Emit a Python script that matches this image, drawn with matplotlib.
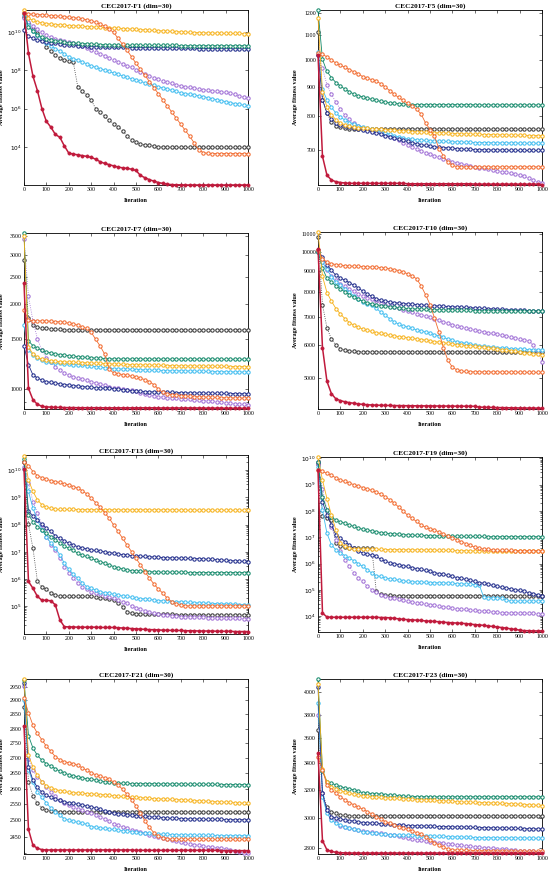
import numpy as np
import matplotlib
matplotlib.use("Agg")
import matplotlib.pyplot as plt
from matplotlib.ticker import NullFormatter

plt.rcParams['font.family'] = ['Liberation Serif', 'DejaVu Serif']

# values sampled every 20 iterations (0..1000); log plots F1/F13/F19 stored as log10
F1_LOG10 = {
    'black': [10.82, 10.47, 10.2, 9.95, 9.6, 9.25, 9.0, 8.8, 8.65, 8.56,
              8.5, 8.44, 7.15, 6.94, 6.7, 6.45, 6.0, 5.8, 5.6, 5.4,
              5.22, 5.05, 4.85, 4.55, 4.38, 4.25, 4.15, 4.1, 4.07, 4.04,
              4.0, 3.99, 3.98, 3.98, 3.97, 3.97, 3.97, 3.97, 3.97, 3.97,
              3.97, 3.97, 3.97, 3.97, 3.97, 3.97, 3.97, 3.97, 3.97, 3.97,
              3.97],
    'purple': [10.73, 10.56, 10.35, 10.15, 10.0, 9.85, 9.75, 9.67, 9.6, 9.55,
               9.48, 9.42, 9.36, 9.28, 9.18, 9.08, 8.98, 8.88, 8.78, 8.67,
               8.56, 8.46, 8.36, 8.26, 8.16, 8.05, 7.94, 7.83, 7.72, 7.62,
               7.53, 7.46, 7.39, 7.32, 7.26, 7.2, 7.15, 7.11, 7.07, 7.04,
               7.0, 6.97, 6.94, 6.91, 6.88, 6.85, 6.8, 6.75, 6.68, 6.6,
               6.54],
    'lightblue': [10.9, 10.38, 10.05, 9.85, 9.65, 9.45, 9.3, 9.15, 9.02, 8.88,
                  8.7, 8.62, 8.55, 8.45, 8.35, 8.24, 8.17, 8.1, 8.02, 7.95,
                  7.87, 7.8, 7.72, 7.65, 7.57, 7.5, 7.43, 7.36, 7.29, 7.22,
                  7.15, 7.08, 7.02, 6.96, 6.9, 6.84, 6.79, 6.75, 6.71, 6.67,
                  6.63, 6.58, 6.52, 6.47, 6.42, 6.37, 6.32, 6.27, 6.22, 6.18,
                  6.14],
    'navy': [10.12, 9.8, 9.68, 9.6, 9.55, 9.5, 9.46, 9.42, 9.39, 9.36,
             9.33, 9.31, 9.29, 9.27, 9.26, 9.25, 9.24, 9.24, 9.23, 9.23,
             9.22, 9.22, 9.21, 9.21, 9.2, 9.2, 9.2, 9.19, 9.19, 9.19,
             9.18, 9.18, 9.18, 9.17, 9.17, 9.17, 9.16, 9.16, 9.16, 9.15,
             9.15, 9.15, 9.15, 9.14, 9.14, 9.14, 9.14, 9.13, 9.13, 9.13,
             9.13],
    'green': [11.0, 10.3, 10.05, 9.88, 9.75, 9.67, 9.6, 9.56, 9.52, 9.49,
              9.46, 9.44, 9.42, 9.41, 9.4, 9.38, 9.37, 9.36, 9.35, 9.34,
              9.33, 9.33, 9.32, 9.32, 9.32, 9.32, 9.32, 9.31, 9.31, 9.31,
              9.31, 9.31, 9.31, 9.31, 9.31, 9.3, 9.3, 9.3, 9.3, 9.3,
              9.3, 9.3, 9.3, 9.3, 9.3, 9.3, 9.3, 9.3, 9.3, 9.3,
              9.3],
    'yellow': [11.17, 10.75, 10.62, 10.55, 10.5, 10.46, 10.43, 10.41, 10.39, 10.37,
               10.35, 10.34, 10.33, 10.31, 10.3, 10.29, 10.27, 10.26, 10.25, 10.23,
               10.22, 10.21, 10.19, 10.18, 10.17, 10.15, 10.14, 10.13, 10.11, 10.1,
               10.09, 10.07, 10.06, 10.05, 10.04, 10.02, 10.01, 10.0, 9.99, 9.98,
               9.97, 9.97, 9.96, 9.96, 9.95, 9.95, 9.94, 9.94, 9.94, 9.93,
               9.93],
    'orange': [11.0, 10.97, 10.95, 10.93, 10.92, 10.9, 10.88, 10.86, 10.84, 10.82,
               10.79, 10.77, 10.74, 10.7, 10.66, 10.6, 10.52, 10.43, 10.33, 10.16,
               10.0, 9.68, 9.37, 9.06, 8.72, 8.38, 8.06, 7.74, 7.42, 7.1,
               6.78, 6.46, 6.14, 5.82, 5.5, 5.18, 4.86, 4.55, 4.2, 3.85,
               3.7, 3.66, 3.65, 3.65, 3.65, 3.65, 3.65, 3.65, 3.65, 3.65,
               3.65],
    'red': [11.0, 8.9, 7.7, 6.94, 6.0, 5.33, 5.03, 4.65, 4.5, 4.05,
            3.67, 3.62, 3.58, 3.54, 3.5, 3.45, 3.35, 3.22, 3.13, 3.07,
            3.0, 2.94, 2.9, 2.87, 2.83, 2.76, 2.5, 2.38, 2.28, 2.2,
            2.13, 2.08, 2.04, 2.02, 2.01, 2.01, 2.0, 2.0, 2.0, 2.0,
            2.0, 2.0, 2.0, 2.0, 2.0, 2.0, 2.0, 2.0, 2.0, 2.0,
            2.0],
}

F5 = {
    'black': [1115, 855, 812, 782, 772, 767, 764, 762, 762, 762,
              762, 762, 762, 762, 762, 762, 762, 762, 762, 762,
              762, 762, 762, 762, 762, 762, 762, 762, 762, 762,
              761, 761, 761, 761, 761, 761, 761, 761, 761, 761,
              761, 761, 761, 761, 761, 761, 761, 761, 761, 761,
              761],
    'purple': [1020, 967, 906, 873, 846, 823, 805, 792, 779, 771,
               764, 760, 757, 753, 749, 745, 740, 734, 728, 722,
               716, 710, 704, 698, 694, 690, 686, 682, 678, 674,
               670, 667, 664, 661, 658, 656, 654, 652, 650, 648,
               646, 644, 642, 640, 638, 635, 632, 628, 623, 619,
               615],
    'lightblue': [1030, 890, 854, 829, 811, 798, 789, 781, 776, 772,
                  768, 764, 761, 758, 754, 750, 746, 742, 738, 735,
                  732, 731, 730, 729, 728, 727, 726, 726, 725, 725,
                  724, 724, 723, 723, 723, 722, 722, 722, 722, 721,
                  721, 721, 721, 721, 721, 720, 720, 720, 720, 720,
                  720],
    'navy': [1020, 855, 810, 792, 781, 775, 771, 768, 765, 762,
             760, 757, 754, 750, 746, 742, 738, 734, 731, 728,
             725, 722, 719, 716, 714, 712, 710, 709, 708, 707,
             706, 705, 704, 703, 703, 702, 702, 702, 701, 701,
             701, 701, 701, 700, 700, 700, 700, 700, 700, 700,
             700],
    'green': [1215, 1001, 955, 932, 914, 902, 891, 882, 874, 868,
              864, 859, 856, 852, 849, 846, 844, 842, 841, 840,
              838, 838, 838, 838, 838, 838, 838, 838, 838, 838,
              838, 838, 838, 838, 838, 837, 837, 837, 837, 837,
              837, 837, 837, 837, 837, 837, 837, 837, 837, 837,
              837],
    'yellow': [1180, 880, 830, 805, 790, 780, 774, 770, 768, 766,
               765, 764, 763, 762, 761, 760, 759, 758, 757, 756,
               755, 754, 753, 752, 752, 751, 750, 750, 749, 749,
               748, 748, 747, 747, 746, 746, 746, 745, 745, 745,
               744, 744, 744, 743, 743, 743, 743, 742, 742, 742,
               742],
    'orange': [1026, 1022, 1011, 999, 987, 979, 971, 962, 954, 947,
               935, 929, 925, 920, 910, 898, 886, 873, 862, 852,
               843, 834, 823, 808, 780, 760, 740, 705, 685, 668,
               660, 657, 656, 656, 656, 656, 656, 656, 656, 656,
               656, 656, 656, 656, 656, 656, 656, 656, 656, 656,
               656],
    'red': [1020, 684, 635, 623, 619, 617, 616, 615, 615, 615,
            615, 615, 615, 615, 615, 615, 615, 615, 615, 615,
            614, 614, 614, 614, 614, 614, 614, 614, 614, 614,
            614, 614, 614, 614, 614, 613, 613, 613, 613, 613,
            613, 613, 613, 613, 613, 613, 613, 613, 613, 613,
            612],
}

F7 = {
    'black': [2870, 1780, 1690, 1660, 1648, 1640, 1635, 1630, 1627, 1625,
              1623, 1622, 1621, 1621, 1620, 1620, 1620, 1620, 1620, 1620,
              1620, 1620, 1620, 1620, 1620, 1620, 1620, 1620, 1620, 1620,
              1620, 1620, 1620, 1620, 1620, 1620, 1620, 1620, 1620, 1620,
              1620, 1620, 1620, 1620, 1620, 1620, 1620, 1620, 1620, 1620,
              1620],
    'purple': [3400, 2130, 1745, 1506, 1370, 1290, 1245, 1200, 1165, 1140,
               1120, 1105, 1095, 1085, 1075, 1062, 1050, 1040, 1030, 1020,
               1010, 1005, 1000, 994, 988, 980, 970, 960, 953, 947,
               940, 935, 932, 930, 928, 925, 922, 919, 916, 913,
               910, 906, 903, 900, 897, 894, 891, 888, 885, 881,
               877],
    'lightblue': [1680, 1380, 1320, 1290, 1265, 1250, 1243, 1237, 1232, 1228,
                  1225, 1221, 1217, 1213, 1209, 1205, 1200, 1195, 1190, 1185,
                  1180, 1178, 1177, 1176, 1174, 1172, 1170, 1168, 1166, 1164,
                  1163, 1162, 1161, 1160, 1160, 1160, 1159, 1158, 1157, 1156,
                  1155, 1154, 1153, 1152, 1152, 1151, 1150, 1150, 1149, 1148,
                  1148],
    'navy': [1420, 1220, 1120, 1095, 1075, 1062, 1055, 1048, 1042, 1037,
             1033, 1028, 1024, 1020, 1016, 1013, 1010, 1008, 1006, 1004,
             1002, 998, 994, 990, 986, 982, 980, 978, 977, 976,
             975, 974, 973, 972, 971, 970, 969, 968, 967, 967,
             966, 966, 965, 965, 964, 964, 963, 963, 962, 962,
             962],
    'green': [3575, 1480, 1425, 1395, 1370, 1355, 1343, 1333, 1325, 1318,
              1312, 1307, 1302, 1298, 1294, 1290, 1287, 1284, 1282, 1280,
              1278, 1277, 1277, 1277, 1277, 1277, 1277, 1276, 1276, 1276,
              1276, 1276, 1276, 1276, 1276, 1276, 1276, 1276, 1276, 1276,
              1275, 1275, 1275, 1275, 1275, 1275, 1275, 1275, 1275, 1275,
              1275],
    'yellow': [3500, 1410, 1330, 1295, 1275, 1265, 1258, 1254, 1250, 1248,
               1246, 1244, 1242, 1240, 1238, 1236, 1234, 1232, 1230, 1228,
               1226, 1224, 1222, 1220, 1219, 1218, 1217, 1216, 1215, 1214,
               1213, 1212, 1211, 1210, 1209, 1208, 1207, 1206, 1205, 1205,
               1204, 1204, 1203, 1203, 1202, 1202, 1201, 1201, 1200, 1200,
               1200],
    'orange': [1900, 1760, 1745, 1745, 1744, 1742, 1740, 1735, 1730, 1722,
               1712, 1700, 1685, 1660, 1640, 1590, 1500, 1420, 1330, 1175,
               1140, 1133, 1125, 1118, 1110, 1100, 1090, 1080, 1062, 1035,
               1000, 972, 960, 955, 950, 946, 944, 942, 940, 938,
               936, 935, 934, 933, 932, 931, 930, 929, 929, 928,
               928],
    'red': [2370, 1005, 915, 882, 868, 864, 862, 860, 860, 859,
            859, 859, 858, 858, 858, 858, 858, 858, 857, 857,
            857, 857, 857, 857, 857, 857, 857, 857, 857, 857,
            856, 856, 856, 856, 856, 856, 856, 856, 856, 856,
            855, 855, 855, 855, 855, 854, 854, 854, 854, 854,
            853],
}

F10 = {
    'black': [10850, 7480, 6580, 6180, 5980, 5873, 5820, 5790, 5780, 5775,
              5770, 5770, 5770, 5770, 5770, 5770, 5770, 5770, 5770, 5770,
              5770, 5770, 5769, 5769, 5768, 5768, 5767, 5767, 5766, 5766,
              5765, 5765, 5764, 5764, 5763, 5763, 5762, 5762, 5762, 5761,
              5761, 5761, 5761, 5760, 5760, 5760, 5760, 5760, 5760, 5760,
              5760],
    'purple': [10000, 9450, 9030, 8740, 8540, 8390, 8290, 8165, 8050, 7930,
               7840, 7760, 7700, 7620, 7540, 7470, 7420, 7370, 7320, 7270,
               7220, 7170, 7120, 7070, 7020, 6980, 6920, 6860, 6800, 6750,
               6700, 6660, 6620, 6580, 6540, 6500, 6470, 6440, 6410, 6380,
               6350, 6320, 6290, 6260, 6230, 6200, 6170, 6130, 6000, 5800,
               5460],
    'lightblue': [10000, 9450, 9080, 8720, 8470, 8320, 8150, 8000, 7850, 7730,
                  7600, 7520, 7450, 7320, 7180, 7050, 6920, 6800, 6720, 6650,
                  6610, 6560, 6510, 6470, 6430, 6390, 6340, 6290, 6240, 6190,
                  6140, 6100, 6070, 6040, 6010, 5980, 5960, 5945, 5930, 5915,
                  5900, 5890, 5880, 5870, 5860, 5850, 5845, 5838, 5832, 5826,
                  5820],
    'navy': [10100, 9700, 9320, 9030, 8785, 8660, 8550, 8440, 8320, 8200,
             8050, 7930, 7830, 7730, 7660, 7620, 7590, 7560, 7540, 7520,
             7505, 7490, 7475, 7460, 7450, 7440, 7430, 7420, 7410, 7400,
             7390, 7380, 7370, 7360, 7350, 7340, 7330, 7320, 7310, 7300,
             7290, 7280, 7270, 7262, 7255, 7248, 7240, 7234, 7228, 7224,
             7220],
    'green': [10000, 9140, 8640, 8470, 8290, 8150, 8020, 7900, 7800, 7700,
              7620, 7560, 7510, 7470, 7440, 7410, 7385, 7365, 7345, 7330,
              7315, 7305, 7295, 7288, 7282, 7276, 7270, 7265, 7260, 7256,
              7252, 7248, 7245, 7242, 7239, 7236, 7233, 7230, 7228, 7226,
              7224, 7222, 7220, 7218, 7217, 7216, 7215, 7214, 7212, 7211,
              7210],
    'yellow': [11150, 8740, 7990, 7620, 7316, 7100, 6925, 6775, 6676, 6605,
               6530, 6490, 6450, 6410, 6380, 6345, 6320, 6295, 6270, 6250,
               6230, 6210, 6190, 6170, 6150, 6130, 6100, 6080, 6060, 6040,
               6020, 6000, 5985, 5970, 5955, 5940, 5925, 5910, 5895, 5880,
               5865, 5840, 5820, 5800, 5780, 5760, 5740, 5720, 5705, 5690,
               5680],
    'orange': [10100, 9625, 9450, 9370, 9320, 9280, 9260, 9245, 9235, 9225,
               9215, 9205, 9195, 9180, 9160, 9135, 9105, 9070, 9020, 8950,
               8860, 8760, 8620, 8300, 7900, 7480, 6950, 6430, 5900, 5500,
               5300, 5220, 5185, 5175, 5168, 5165, 5163, 5162, 5161, 5160,
               5159, 5158, 5157, 5156, 5155, 5154, 5153, 5152, 5151, 5150,
               5150],
    'red': [10170, 5900, 4900, 4580, 4450, 4410, 4380, 4360, 4345, 4330,
            4318, 4310, 4305, 4300, 4297, 4294, 4292, 4290, 4289, 4288,
            4287, 4286, 4285, 4284, 4283, 4282, 4281, 4280, 4279, 4278,
            4277, 4276, 4275, 4275, 4274, 4273, 4255, 4250, 4248, 4246,
            4244, 4242, 4240, 4238, 4236, 4234, 4233, 4232, 4231, 4230,
            4228],
}

F13_LOG10 = {
    'black': [10.32, 8.01, 7.13, 5.91, 5.72, 5.62, 5.48, 5.42, 5.38, 5.36,
              5.36, 5.36, 5.36, 5.36, 5.36, 5.36, 5.34, 5.32, 5.31, 5.28,
              5.23, 5.11, 4.99, 4.8, 4.74, 4.72, 4.71, 4.71, 4.7, 4.7,
              4.7, 4.7, 4.7, 4.7, 4.69, 4.69, 4.69, 4.69, 4.69, 4.69,
              4.69, 4.69, 4.69, 4.68, 4.68, 4.68, 4.68, 4.68, 4.68, 4.68,
              4.68],
    'purple': [10.13, 9.52, 8.85, 8.44, 7.99, 7.56, 7.25, 7.07, 6.76, 6.46,
               6.24, 6.03, 5.85, 5.72, 5.62, 5.54, 5.49, 5.44, 5.39, 5.34,
               5.29, 5.23, 5.17, 5.11, 5.02, 4.95, 4.89, 4.84, 4.8, 4.75,
               4.72, 4.69, 4.67, 4.66, 4.64, 4.62, 4.61, 4.6, 4.6, 4.59,
               4.59, 4.58, 4.58, 4.57, 4.57, 4.56, 4.56, 4.55, 4.55, 4.54,
               4.54],
    'lightblue': [10.04, 9.22, 8.6, 8.17, 7.81, 7.56, 7.32, 7.13, 6.89, 6.58,
                  6.36, 6.18, 6.03, 5.87, 5.72, 5.66, 5.6, 5.54, 5.5, 5.48,
                  5.44, 5.4, 5.38, 5.36, 5.33, 5.29, 5.28, 5.27, 5.25, 5.23,
                  5.21, 5.2, 5.18, 5.17, 5.17, 5.16, 5.15, 5.14, 5.13, 5.12,
                  5.11, 5.11, 5.1, 5.1, 5.09, 5.08, 5.08, 5.07, 5.06, 5.06,
                  5.05],
    'navy': [10.32, 8.5, 8.32, 8.17, 8.01, 7.87, 7.75, 7.59, 7.5, 7.41,
             7.32, 7.25, 7.19, 7.14, 7.11, 7.07, 7.05, 7.02, 7.0, 6.97,
             6.95, 6.92, 6.9, 6.89, 6.86, 6.85, 6.84, 6.83, 6.82, 6.81,
             6.8, 6.79, 6.78, 6.78, 6.77, 6.77, 6.76, 6.76, 6.75, 6.75,
             6.74, 6.73, 6.72, 6.71, 6.7, 6.69, 6.68, 6.67, 6.66, 6.65,
             6.64],
    'green': [10.4, 8.36, 8.11, 7.93, 7.81, 7.68, 7.56, 7.44, 7.32, 7.22,
              7.13, 7.05, 6.95, 6.88, 6.83, 6.76, 6.7, 6.64, 6.58, 6.52,
              6.46, 6.41, 6.37, 6.34, 6.31, 6.3, 6.29, 6.28, 6.27, 6.26,
              6.25, 6.25, 6.25, 6.25, 6.25, 6.25, 6.25, 6.24, 6.24, 6.24,
              6.24, 6.24, 6.24, 6.24, 6.24, 6.24, 6.24, 6.24, 6.24, 6.24,
              6.24],
    'yellow': [10.53, 9.64, 9.22, 8.91, 8.73, 8.64, 8.6, 8.57, 8.56, 8.56,
               8.56, 8.56, 8.55, 8.55, 8.55, 8.55, 8.55, 8.55, 8.55, 8.55,
               8.54, 8.54, 8.54, 8.54, 8.54, 8.54, 8.54, 8.54, 8.54, 8.54,
               8.54, 8.54, 8.54, 8.54, 8.54, 8.53, 8.53, 8.53, 8.53, 8.53,
               8.53, 8.53, 8.53, 8.53, 8.53, 8.53, 8.53, 8.53, 8.53, 8.53,
               8.53],
    'orange': [10.32, 10.17, 9.95, 9.8, 9.73, 9.67, 9.62, 9.58, 9.55, 9.5,
               9.46, 9.4, 9.34, 9.25, 9.13, 8.97, 8.81, 8.64, 8.44, 8.24,
               7.99, 7.75, 7.5, 7.25, 7.01, 6.76, 6.52, 6.27, 6.03, 5.82,
               5.63, 5.48, 5.29, 5.17, 5.09, 5.04, 5.02, 5.01, 5.01, 5.01,
               5.01, 5.01, 5.01, 5.01, 5.01, 5.01, 5.01, 5.01, 5.01, 5.01,
               5.01],
    'red': [10.04, 5.91, 5.66, 5.36, 5.22, 5.22, 5.2, 5.05, 4.5, 4.25,
            4.24, 4.24, 4.23, 4.23, 4.23, 4.23, 4.23, 4.22, 4.22, 4.22,
            4.22, 4.21, 4.2, 4.19, 4.18, 4.17, 4.16, 4.15, 4.14, 4.14,
            4.13, 4.12, 4.12, 4.11, 4.11, 4.11, 4.1, 4.1, 4.1, 4.09,
            4.09, 4.09, 4.09, 4.08, 4.08, 4.08, 4.08, 4.07, 4.07, 4.07,
            4.07],
}

F19_LOG10 = {
    'black': [9.8, 7.81, 7.72, 7.65, 6.77, 6.67, 6.62, 6.6, 6.59, 6.58,
              6.58, 6.58, 6.58, 4.95, 4.85, 4.81, 4.79, 4.78, 4.78, 4.78,
              4.78, 4.78, 4.78, 4.78, 4.78, 4.78, 4.78, 4.78, 4.78, 4.78,
              4.78, 4.78, 4.78, 4.78, 4.78, 4.78, 4.78, 4.78, 4.78, 4.78,
              4.78, 4.78, 4.78, 4.78, 4.78, 4.78, 4.78, 4.78, 4.78, 4.78,
              4.78],
    'purple': [9.8, 8.85, 8.03, 7.4, 6.9, 6.46, 6.14, 5.89, 5.64, 5.45,
               5.32, 5.13, 5.01, 4.91, 4.82, 4.75, 4.71, 4.68, 4.64, 4.6,
               4.56, 4.54, 4.51, 4.49, 4.46, 4.44, 4.42, 4.39, 4.36, 4.34,
               4.31, 4.29, 4.27, 4.26, 4.24, 4.22, 4.21, 4.19, 4.18, 4.16,
               4.15, 4.14, 4.14, 4.13, 4.13, 4.12, 4.12, 4.11, 4.11, 4.1,
               4.1],
    'lightblue': [9.67, 8.03, 7.15, 6.71, 6.52, 6.42, 6.3, 6.2, 6.11, 6.0,
                  5.89, 5.77, 5.64, 5.54, 5.51, 5.45, 5.42, 5.4, 5.37, 5.34,
                  5.32, 5.31, 5.3, 5.29, 5.29, 5.28, 5.27, 5.27, 5.26, 5.26,
                  5.25, 5.24, 5.23, 5.22, 5.21, 5.2, 5.18, 4.72, 4.7, 4.69,
                  4.69, 4.68, 4.6, 4.58, 4.57, 4.57, 4.57, 4.57, 4.57, 4.57,
                  4.57],
    'navy': [9.86, 8.35, 7.84, 7.47, 7.09, 6.96, 6.83, 6.71, 6.58, 6.49,
             6.39, 6.36, 6.32, 6.27, 6.17, 6.08, 6.04, 6.0, 5.96, 5.92,
             5.89, 5.85, 5.81, 5.78, 5.74, 5.7, 5.66, 5.62, 5.59, 5.55,
             5.51, 5.47, 5.44, 5.4, 5.36, 5.32, 5.28, 5.25, 5.21, 5.17,
             5.13, 5.1, 5.07, 5.04, 5.01, 4.98, 4.94, 4.9, 4.86, 4.82,
             4.78],
    'green': [9.86, 8.54, 8.03, 7.78, 7.65, 7.59, 7.53, 7.47, 7.41, 7.35,
              7.3, 7.27, 7.24, 7.21, 7.18, 7.15, 7.14, 7.13, 7.12, 7.1,
              7.09, 7.08, 7.07, 7.07, 7.06, 7.05, 7.05, 7.05, 7.04, 7.04,
              7.04, 7.04, 7.03, 7.03, 7.03, 7.03, 7.03, 7.03, 7.02, 7.02,
              7.02, 7.02, 7.02, 7.02, 7.02, 7.02, 7.02, 7.02, 7.02, 7.02,
              7.02],
    'yellow': [10.05, 9.17, 8.47, 7.84, 7.28, 6.8, 6.65, 6.58, 6.57, 6.56,
               6.55, 6.55, 6.54, 6.54, 6.54, 6.53, 6.53, 6.53, 6.53, 6.52,
               6.52, 6.52, 6.52, 6.52, 6.51, 6.51, 6.51, 6.5, 6.5, 6.5,
               6.5, 6.49, 6.49, 6.49, 6.48, 6.48, 6.48, 6.48, 6.47, 6.47,
               6.47, 6.47, 6.47, 6.46, 6.46, 6.46, 6.46, 6.46, 6.46, 6.46,
               6.46],
    'orange': [9.55, 9.5, 9.43, 9.35, 9.26, 9.17, 9.12, 9.06, 9.0, 8.95,
               8.89, 8.84, 8.78, 8.72, 8.64, 8.54, 8.43, 8.3, 8.15, 8.0,
               7.84, 7.72, 7.6, 7.47, 7.38, 7.32, 7.28, 7.2, 7.13, 7.05,
               6.98, 6.9, 6.83, 6.76, 6.69, 6.62, 6.58, 6.55, 6.54, 6.52,
               6.51, 6.5, 6.5, 6.5, 6.49, 6.49, 6.49, 6.49, 6.49, 6.49,
               6.49],
    'red': [9.55, 4.12, 3.97, 3.96, 3.96, 3.96, 3.96, 3.96, 3.96, 3.96,
            3.96, 3.96, 3.96, 3.96, 3.95, 3.95, 3.94, 3.92, 3.9, 3.88,
            3.87, 3.86, 3.85, 3.84, 3.82, 3.81, 3.8, 3.79, 3.77, 3.76,
            3.75, 3.74, 3.73, 3.72, 3.7, 3.68, 3.67, 3.65, 3.63, 3.61,
            3.59, 3.57, 3.55, 3.52, 3.5, 3.47, 3.45, 3.45, 3.44, 3.44,
            3.44],
}

F21 = {
    'black': [2875, 2621, 2577, 2553, 2538, 2533, 2530, 2528, 2527, 2527,
              2527, 2527, 2527, 2527, 2527, 2527, 2527, 2527, 2527, 2527,
              2526, 2526, 2526, 2526, 2526, 2526, 2526, 2526, 2526, 2526,
              2526, 2526, 2526, 2526, 2526, 2526, 2526, 2526, 2526, 2526,
              2525, 2525, 2525, 2525, 2525, 2525, 2525, 2525, 2525, 2525,
              2525],
    'purple': [2952, 2698, 2660, 2638, 2621, 2604, 2588, 2575, 2564, 2555,
               2547, 2541, 2536, 2531, 2526, 2522, 2516, 2510, 2505, 2497,
               2489, 2485, 2480, 2476, 2471, 2466, 2463, 2460, 2456, 2453,
               2450, 2446, 2443, 2440, 2436, 2433, 2431, 2429, 2426, 2424,
               2422, 2420, 2419, 2417, 2415, 2413, 2411, 2408, 2405, 2402,
               2400],
    'lightblue': [2903, 2660, 2621, 2588, 2572, 2555, 2538, 2525, 2516, 2505,
                  2500, 2497, 2494, 2491, 2488, 2481, 2479, 2477, 2475, 2473,
                  2472, 2470, 2468, 2466, 2465, 2463, 2462, 2461, 2460, 2459,
                  2458, 2457, 2457, 2456, 2456, 2455, 2455, 2455, 2454, 2454,
                  2454, 2454, 2454, 2453, 2453, 2453, 2453, 2453, 2453, 2453,
                  2453],
    'navy': [2963, 2671, 2627, 2604, 2588, 2579, 2572, 2566, 2563, 2559,
             2555, 2553, 2550, 2547, 2545, 2542, 2538, 2534, 2530, 2526,
             2522, 2520, 2519, 2517, 2516, 2514, 2513, 2512, 2511, 2510,
             2509, 2508, 2507, 2506, 2506, 2505, 2505, 2504, 2504, 2504,
             2503, 2503, 2503, 2503, 2503, 2502, 2502, 2502, 2502, 2502,
             2502],
    'green': [2974, 2776, 2734, 2709, 2693, 2682, 2674, 2665, 2657, 2652,
              2645, 2642, 2638, 2635, 2632, 2630, 2628, 2625, 2623, 2621,
              2619, 2618, 2617, 2617, 2616, 2616, 2616, 2616, 2616, 2616,
              2615, 2615, 2615, 2615, 2615, 2615, 2614, 2614, 2614, 2614,
              2614, 2614, 2614, 2614, 2613, 2613, 2613, 2613, 2613, 2613,
              2613],
    'yellow': [2977, 2709, 2671, 2643, 2623, 2610, 2603, 2597, 2594, 2591,
               2588, 2587, 2586, 2585, 2584, 2583, 2582, 2581, 2580, 2579,
               2577, 2576, 2575, 2574, 2573, 2572, 2571, 2570, 2569, 2568,
               2567, 2567, 2566, 2566, 2565, 2564, 2563, 2563, 2562, 2561,
               2560, 2560, 2559, 2558, 2557, 2557, 2556, 2555, 2554, 2554,
               2553],
    'orange': [2908, 2856, 2812, 2784, 2762, 2740, 2723, 2705, 2695, 2688,
               2685, 2682, 2676, 2668, 2660, 2652, 2645, 2640, 2636, 2630,
               2622, 2612, 2598, 2582, 2565, 2545, 2522, 2498, 2478, 2462,
               2452, 2447, 2444, 2442, 2442, 2442, 2442, 2442, 2442, 2442,
               2442, 2442, 2442, 2442, 2442, 2442, 2442, 2442, 2442, 2442,
               2442],
    'red': [2810, 2472, 2424, 2415, 2411, 2410, 2410, 2410, 2410, 2410,
            2410, 2410, 2410, 2410, 2410, 2410, 2410, 2410, 2410, 2410,
            2410, 2410, 2410, 2410, 2410, 2409, 2409, 2409, 2409, 2409,
            2409, 2409, 2409, 2409, 2409, 2409, 2409, 2409, 2409, 2409,
            2409, 2409, 2409, 2409, 2408, 2408, 2408, 2408, 2408, 2408,
            2408],
}

F23 = {
    'black': [3670, 3176, 3080, 3045, 3034, 3022, 3020, 3018, 3017, 3017,
              3016, 3016, 3016, 3016, 3016, 3016, 3016, 3016, 3016, 3016,
              3016, 3016, 3016, 3016, 3016, 3016, 3016, 3016, 3016, 3016,
              3016, 3016, 3016, 3016, 3016, 3016, 3016, 3016, 3016, 3016,
              3016, 3016, 3016, 3016, 3016, 3016, 3016, 3016, 3016, 3016,
              3016],
    'purple': [3798, 3176, 3057, 3000, 2975, 2950, 2942, 2935, 2928, 2920,
               2913, 2909, 2905, 2901, 2897, 2893, 2889, 2884, 2879, 2872,
               2865, 2861, 2857, 2853, 2848, 2843, 2840, 2837, 2834, 2830,
               2827, 2824, 2821, 2818, 2814, 2811, 2808, 2805, 2802, 2800,
               2797, 2795, 2793, 2791, 2789, 2786, 2784, 2782, 2780, 2778,
               2776],
    'lightblue': [3900, 3151, 3034, 2988, 2965, 2952, 2942, 2932, 2925, 2918,
                  2909, 2905, 2901, 2897, 2894, 2891, 2889, 2887, 2886, 2885,
                  2885, 2884, 2883, 2882, 2881, 2880, 2879, 2878, 2877, 2876,
                  2875, 2874, 2873, 2872, 2871, 2870, 2870, 2869, 2869, 2868,
                  2868, 2868, 2867, 2867, 2867, 2866, 2866, 2866, 2865, 2865,
                  2865],
    'navy': [4050, 3176, 3057, 3011, 3000, 2993, 2988, 2984, 2980, 2976,
             2970, 2968, 2966, 2964, 2962, 2960, 2958, 2956, 2954, 2952,
             2950, 2949, 2948, 2947, 2946, 2945, 2944, 2943, 2943, 2942,
             2941, 2940, 2940, 2939, 2938, 2937, 2936, 2936, 2935, 2934,
             2933, 2933, 2932, 2931, 2930, 2930, 2929, 2928, 2928, 2927,
             2927],
    'green': [4120, 3340, 3262, 3250, 3237, 3225, 3215, 3208, 3200, 3190,
              3180, 3177, 3174, 3172, 3170, 3165, 3162, 3160, 3158, 3155,
              3153, 3152, 3152, 3151, 3151, 3150, 3150, 3150, 3150, 3150,
              3150, 3150, 3150, 3150, 3150, 3150, 3150, 3150, 3150, 3150,
              3150, 3150, 3150, 3150, 3150, 3150, 3150, 3150, 3150, 3150,
              3150],
    'yellow': [4080, 3360, 3255, 3225, 3210, 3195, 3185, 3176, 3168, 3162,
               3156, 3153, 3150, 3148, 3146, 3144, 3142, 3140, 3138, 3136,
               3133, 3132, 3130, 3129, 3128, 3127, 3125, 3123, 3121, 3119,
               3117, 3115, 3113, 3112, 3111, 3110, 3109, 3108, 3107, 3106,
               3104, 3103, 3102, 3100, 3098, 3097, 3095, 3093, 3091, 3089,
               3087],
    'orange': [3450, 3350, 3237, 3200, 3176, 3151, 3127, 3109, 3093, 3077,
               3062, 3046, 3030, 3011, 2993, 2977, 2965, 2954, 2943, 2932,
               2925, 2914, 2903, 2893, 2876, 2854, 2837, 2822, 2807, 2797,
               2790, 2789, 2788, 2787, 2786, 2786, 2785, 2785, 2784, 2784,
               2783, 2783, 2782, 2782, 2781, 2781, 2781, 2780, 2780, 2780,
               2780],
    'red': [3480, 2850, 2790, 2780, 2775, 2772, 2771, 2770, 2770, 2770,
            2770, 2770, 2770, 2770, 2770, 2770, 2770, 2770, 2770, 2770,
            2770, 2770, 2770, 2770, 2770, 2770, 2770, 2770, 2770, 2770,
            2769, 2769, 2769, 2769, 2769, 2769, 2769, 2769, 2769, 2769,
            2769, 2769, 2769, 2769, 2769, 2768, 2768, 2768, 2768, 2768,
            2768],
}

COLORS = {
    'black': '#3a3a3a', 'purple': '#a070d6', 'lightblue': '#3fbdf0',
    'navy': '#1e2a8a', 'green': '#13896a', 'yellow': '#f7b21b',
    'orange': '#f26a2e', 'red': '#c01a3c',
}
DOTTED = ('black', 'purple')

# (title, data, is_log10, ylim, yticks, yticklabels, axes rect in pixels)
PANELS = [
    ('CEC2017-F1 (dim=30)', F1_LOG10, True, (1e2, 10 ** 11.17),
     [1e4, 1e6, 1e8, 1e10], ['$10^{4}$', '$10^{6}$', '$10^{8}$', '$10^{10}$'], (24, 10, 248, 185)),
    ('CEC2017-F5 (dim=30)', F5, False, (611, 1216),
     [700, 800, 900, 1000, 1100, 1200], None, (318, 10, 542, 185)),
    ('CEC2017-F7 (dim=30)', F7, False, (849, 3578),
     [1000, 1500, 2000, 2500, 3000, 3500], None, (24, 233, 248, 409)),
    ('CEC2017-F10 (dim=30)', F10, False, (4210, 11150),
     [5000, 6000, 7000, 8000, 9000, 10000, 11000], None, (318, 232, 542, 409)),
    ('CEC2017-F13 (dim=30)', F13_LOG10, True, (10 ** 3.98, 10 ** 10.56),
     [1e5, 1e6, 1e7, 1e8, 1e9, 1e10],
     ['$10^{5}$', '$10^{6}$', '$10^{7}$', '$10^{8}$', '$10^{9}$', '$10^{10}$'], (24, 455, 248, 634)),
    ('CEC2017-F19 (dim=30)', F19_LOG10, True, (10 ** 3.4, 10 ** 10.05),
     [1e4, 1e5, 1e6, 1e7, 1e8, 1e9, 1e10],
     ['$10^{4}$', '$10^{5}$', '$10^{6}$', '$10^{7}$', '$10^{8}$', '$10^{9}$', '$10^{10}$'], (318, 457, 542, 632)),
    ('CEC2017-F21 (dim=30)', F21, False, (2398, 2978),
     [2450, 2500, 2550, 2600, 2650, 2700, 2750, 2800, 2850, 2900, 2950], None, (24, 679, 248, 854)),
    ('CEC2017-F23 (dim=30)', F23, False, (2764, 4124),
     [2800, 3000, 3200, 3400, 3600, 3800, 4000], None, (318, 679, 542, 854)),
]

W, H = 550, 872
fig = plt.figure(figsize=(W / 100, H / 100), dpi=100)

for title, data, is_log, ylim, yticks, ylabels, (x0, y0, x1, y1) in PANELS:
    ax = fig.add_axes([x0 / W, 1 - y1 / H, (x1 - x0) / W, (y1 - y0) / H])
    ax.set_yscale('log')
    for name, vals in data.items():
        v = np.array(vals, dtype=float)
        if is_log:
            v = 10 ** v
        it = np.linspace(0, 1000, len(v))
        c = COLORS[name]
        if name == 'red':
            ax.plot(it, v, '-', color=c, lw=1.1, marker='o', ms=2.3,
                    mfc=c, mec=c, mew=0.5, clip_on=False, zorder=5)
        else:
            ax.plot(it, v, ':' if name in DOTTED else '-', color=c, lw=0.6,
                    marker='o', ms=2.4, mfc='white', mec=c, mew=0.75,
                    clip_on=False, zorder=3)
    ax.set_xlim(0, 1000)
    ax.set_ylim(*ylim)
    ax.set_xticks(np.arange(0, 1001, 100))
    if ylabels is None:
        ylabels = [str(t) for t in yticks]
    ax.set_yticks(yticks, labels=ylabels)
    ax.yaxis.set_minor_formatter(NullFormatter())
    ax.tick_params(which='both', direction='in', top=True, right=True,
                   labelsize=4.2, width=0.4, pad=1.5)
    ax.tick_params(which='major', length=2.2)
    ax.tick_params(which='minor', length=1.2)
    for s in ax.spines.values():
        s.set_linewidth(0.6)
    ax.set_title(title, fontsize=5.2, fontweight='bold', pad=1.5)
    ax.set_xlabel('Iteration', fontsize=4.6, fontweight='bold')
    ax.set_ylabel('Average fitness value', fontsize=4.4, fontweight='bold')
    ax.xaxis.set_label_coords(0.5, -0.075)
    ax.yaxis.set_label_coords(-0.09, 0.5)

fig.savefig('out.png', dpi=100)
